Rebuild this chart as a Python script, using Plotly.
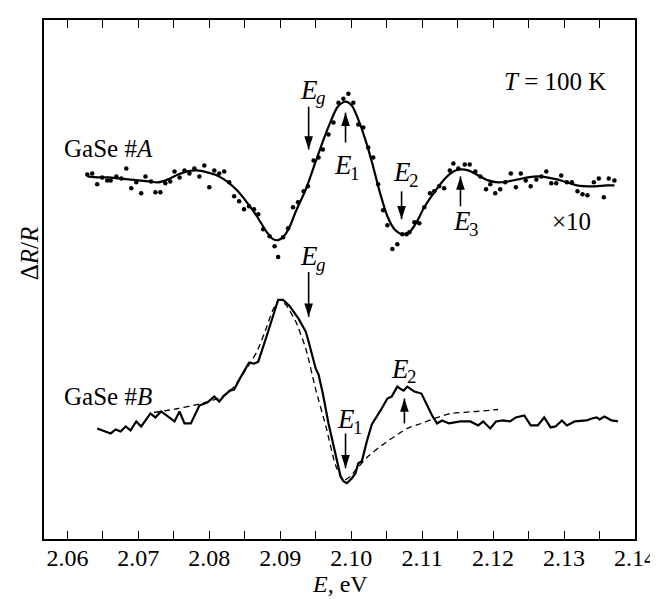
import plotly.graph_objects as go

# ---------------- data (photon energy in eV, signal in arbitrary units) ----------------
# GaSe #A : experimental points (x10)
energy_A_pts = [2.0628, 2.0635, 2.0642, 2.0649, 2.0656, 2.0661, 2.0669, 2.0676, 2.0683, 2.0690,
                2.0697, 2.0704, 2.0710, 2.0718, 2.0724, 2.0731, 2.0738, 2.0745, 2.0751, 2.0758,
                2.0765, 2.0772, 2.0779, 2.0786, 2.0793, 2.0800, 2.0807, 2.0814, 2.0821, 2.0828,
                2.0835, 2.0842, 2.0849, 2.0856, 2.0863, 2.0869, 2.0876, 2.0885, 2.0892, 2.0897,
                2.0904, 2.0911, 2.0918, 2.0925, 2.0933, 2.0939, 2.0947, 2.0954, 2.0960, 2.0968,
                2.0975, 2.0982, 2.0989, 2.0996, 2.1003, 2.1010, 2.1017, 2.1024, 2.1031, 2.1038,
                2.1045, 2.1051, 2.1058, 2.1065, 2.1072, 2.1078, 2.1082, 2.1089, 2.1096, 2.1103,
                2.1111, 2.1117, 2.1124, 2.1131, 2.1139, 2.1144, 2.1151, 2.1160, 2.1167, 2.1175,
                2.1182, 2.1190, 2.1196, 2.1203, 2.1210, 2.1217, 2.1225, 2.1232, 2.1239, 2.1246,
                2.1253, 2.1261, 2.1268, 2.1275, 2.1282, 2.1289, 2.1296, 2.1304, 2.1311, 2.1319,
                2.1326, 2.1333, 2.1342, 2.1349, 2.1356, 2.1363, 2.1371]
signal_A_pts = [366, 367, 356, 363, 360, 360, 364, 362, 372, 352,
                358, 347, 364, 359, 348, 348, 357, 359, 369, 363,
                370, 367, 372, 364, 375, 353, 370, 367, 369, 358,
                344, 339, 331, 334, 331, 326, 311, 304, 294, 283,
                303, 312, 333, 338, 349, 354, 380, 383, 391, 406,
                418, 438, 442, 447, 438, 416, 413, 393, 383, 356,
                330, 315, 291, 296, 306, 306, 308, 318, 317, 333,
                347, 349, 354, 352, 370, 377, 372, 376, 376, 369,
                364, 351, 356, 347, 351, 358, 367, 353, 367, 360,
                354, 361, 364, 369, 357, 357, 365, 358, 358, 349,
                346, 345, 358, 362, 343, 362, 360]

# GaSe #A : fitted curve
energy_A_fit = [2.0628, 2.0644, 2.0658, 2.0672, 2.0686, 2.0700, 2.0714, 2.0728, 2.0742, 2.0756,
                2.0769, 2.0783, 2.0797, 2.0811, 2.0825, 2.0839, 2.0853, 2.0867, 2.0881, 2.0890,
                2.0897, 2.0904, 2.0913, 2.0922, 2.0936, 2.0950, 2.0961, 2.0971, 2.0981, 2.0992,
                2.1001, 2.1010, 2.1019, 2.1029, 2.1040, 2.1051, 2.1061, 2.1072, 2.1082, 2.1092,
                2.1103, 2.1117, 2.1131, 2.1144, 2.1154, 2.1165, 2.1179, 2.1193, 2.1207, 2.1221,
                2.1235, 2.1249, 2.1263, 2.1276, 2.1290, 2.1304, 2.1318, 2.1339, 2.1360, 2.1371]
signal_A_fit = [364, 363, 363, 362, 361, 360, 359, 358, 361, 366,
                369, 370, 368, 365, 359, 350, 338, 324, 308, 301,
                300, 303, 313, 329, 351, 379, 401, 419, 434, 439,
                435, 421, 403, 379, 349, 324, 311, 306, 308, 318,
                333, 348, 361, 369, 371, 370, 365, 360, 358, 359,
                361, 363, 364, 363, 361, 358, 355, 354, 355, 355]

# GaSe #B : experimental spectrum
energy_B = [2.0642, 2.0654, 2.0661, 2.0668, 2.0675, 2.0682, 2.0689, 2.0697, 2.0704, 2.0717,
            2.0724, 2.0732, 2.0742, 2.0751, 2.0758, 2.0765, 2.0774, 2.0786, 2.0797, 2.0807,
            2.0814, 2.0821, 2.0829, 2.0835, 2.0843, 2.0856, 2.0863, 2.0869, 2.0881, 2.0890,
            2.0897, 2.0904, 2.0913, 2.0926, 2.0936, 2.0940, 2.0946, 2.0950, 2.0954, 2.0960,
            2.0968, 2.0978, 2.0985, 2.0989, 2.0994, 2.1001, 2.1006, 2.1010, 2.1015, 2.1022,
            2.1029, 2.1043, 2.1051, 2.1057, 2.1065, 2.1071, 2.1074, 2.1079, 2.1089, 2.1099,
            2.1107, 2.1114, 2.1121, 2.1128, 2.1138, 2.1154, 2.1168, 2.1179, 2.1186, 2.1196,
            2.1204, 2.1214, 2.1224, 2.1232, 2.1244, 2.1253, 2.1263, 2.1272, 2.1281, 2.1288,
            2.1297, 2.1304, 2.1315, 2.1332, 2.1339, 2.1346, 2.1350, 2.1357, 2.1367, 2.1376]
signal_B = [111, 108, 106, 110, 108, 113, 109, 118, 113, 126,
            122, 128, 123, 118, 128, 116, 116, 134, 137, 143,
            138, 144, 149, 150, 161, 177, 176, 178, 204, 224,
            240, 240, 234, 221, 208, 198, 181, 171, 165, 146,
            116, 84, 63, 58, 56, 61, 66, 76, 78, 98,
            115, 131, 141, 143, 153, 150, 149, 153, 148, 146,
            134, 124, 116, 119, 116, 118, 118, 114, 118, 111,
            118, 119, 118, 122, 124, 114, 114, 122, 112, 113,
            119, 114, 118, 119, 121, 122, 120, 123, 119, 118]

# GaSe #B : calculated curve (dashed)
energy_B_calc = [2.0722, 2.0740, 2.0756, 2.0783, 2.0804, 2.0818, 2.0835, 2.0856, 2.0867, 2.0881,
                 2.0889, 2.0899, 2.0908, 2.0922, 2.0936, 2.0950, 2.0964, 2.0978, 2.0989, 2.0999,
                 2.1006, 2.1024, 2.1043, 2.1061, 2.1079, 2.1099, 2.1117, 2.1140, 2.1176, 2.1207]
signal_B_calc = [127, 129, 131, 135, 139, 143, 153, 175, 188, 213,
                 229, 240, 235, 218, 191, 150, 114, 74, 59, 63,
                 69, 83, 94, 103, 111, 116, 121, 126, 128, 130]

# transition energies (eV) marked by arrows: (energy, tail level, head level)
arrows_A = [(2.0940, 434, 391),   # E_g
            (2.0992, 398, 428),   # E_1
            (2.1071, 349, 321),   # E_2
            (2.1154, 334, 364)]   # E_3
arrows_B = [(2.0940, 268, 223),   # E_g
            (2.0992, 106, 71),    # E_1
            (2.1075, 116, 141)]   # E_2

# transition labels: (energy, level, subscript)
labels_E = [(2.0948, 451, "g"), (2.0995, 375, "1"), (2.1079, 368, "2"), (2.1163, 319, "3"),
            (2.0948, 284, "g"), (2.1000, 120, "1"), (2.1076, 171, "2")]

x_ticks = [2.06, 2.07, 2.08, 2.09, 2.10, 2.11, 2.12, 2.13, 2.14]
x_tick_labels = ["2.06", "2.07", "2.08", "2.09", "2.10", "2.11", "2.12", "2.13", "2.14"]

# ---------------- figure ----------------
FONT = '"Liberation Serif", "Times New Roman", Times, serif'
BLACK = "black"
fig = go.Figure()

fig.add_trace(go.Scatter(x=energy_A_pts, y=signal_A_pts, mode="markers",
                         marker=dict(color=BLACK, size=4.5), showlegend=False,
                         hoverinfo="skip"))
fig.add_trace(go.Scatter(x=energy_A_fit, y=signal_A_fit, mode="lines",
                         line=dict(color=BLACK, width=2.2, shape="spline", smoothing=0.8),
                         showlegend=False, hoverinfo="skip"))
fig.add_trace(go.Scatter(x=energy_B_calc, y=signal_B_calc, mode="lines",
                         line=dict(color=BLACK, width=1.3, dash="6px,4px", shape="spline",
                                   smoothing=0.6),
                         showlegend=False, hoverinfo="skip"))
fig.add_trace(go.Scatter(x=energy_B, y=signal_B, mode="lines",
                         line=dict(color=BLACK, width=2.2), showlegend=False,
                         hoverinfo="skip"))

# arrows: shaft as a line, head as an 'arrow' marker whose tip sits on the head point
for e, tail, head in arrows_A + arrows_B:
    fig.add_trace(go.Scatter(x=[e, e], y=[tail, head], mode="lines",
                             line=dict(color=BLACK, width=1.6), showlegend=False,
                             hoverinfo="skip"))
    fig.add_trace(go.Scatter(x=[e], y=[head], mode="markers",
                             marker=dict(symbol="arrow", size=14, color=BLACK,
                                         angle=0 if head > tail else 180,
                                         line=dict(width=0)),
                             showlegend=False, hoverinfo="skip"))

annotations = []

def label(x, y, text, xanchor="center", size=25, italic=False, xshift=0, yshift=0):
    annotations.append(dict(x=x, y=y, xref="x", yref="y", text=text, showarrow=False,
                            xanchor=xanchor, yanchor="middle", xshift=xshift, yshift=yshift,
                            font=dict(family=FONT, size=size, color=BLACK,
                                      style="italic" if italic else "normal")))

# E labels: italic E with a separate smaller subscript
for e, lvl, sub in labels_E:
    label(e, lvl, "E", xanchor="right", size=27, italic=True, xshift=6)
    label(e, lvl, sub, xanchor="left", size=19, italic=(sub == "g"), xshift=0, yshift=-8)

label(2.1311, 319, "×10")
label(2.1362, 459, "<i>T</i> = 100 K", xanchor="right")
label(2.0592, 392, "GaSe #<i>A</i>", xanchor="left")
label(2.0592, 143, "GaSe #<i>B</i>", xanchor="left")

# axis titles
annotations.append(dict(x=-0.024, y=0.55, xref="paper", yref="paper", text="Δ<i>R</i>/<i>R</i>",
                        textangle=-90, showarrow=False, xanchor="center", yanchor="middle",
                        font=dict(family=FONT, size=25, color=BLACK)))
annotations.append(dict(x=0.5, y=-0.087, xref="paper", yref="paper", text="<i>E</i>, eV",
                        showarrow=False, xanchor="center", yanchor="middle",
                        font=dict(family=FONT, size=24, color=BLACK)))

fig.update_layout(
    width=658, height=599,
    margin=dict(l=36, r=23, t=10, b=68),
    paper_bgcolor="white", plot_bgcolor="white",
    font=dict(family=FONT, size=25, color=BLACK),
    annotations=annotations,
    xaxis=dict(range=[2.0567, 2.14], tickvals=x_ticks, ticktext=x_tick_labels,
               ticks="inside", ticklen=8, tickwidth=1.3, tickcolor=BLACK,
               minor=dict(dtick=0.005, tick0=2.06, ticks="inside", ticklen=8,
                          tickwidth=1.3, tickcolor=BLACK),
               showline=True, linecolor=BLACK, linewidth=2, mirror="ticks",
               showgrid=False, zeroline=False, ticklabelstandoff=-4,
               tickfont=dict(family=FONT, size=24, color=BLACK)),
    yaxis=dict(range=[0, 521], showticklabels=False, ticks="",
               showline=True, linecolor=BLACK, linewidth=2, mirror=True,
               showgrid=False, zeroline=False),
)

fig.write_html("out.html")
